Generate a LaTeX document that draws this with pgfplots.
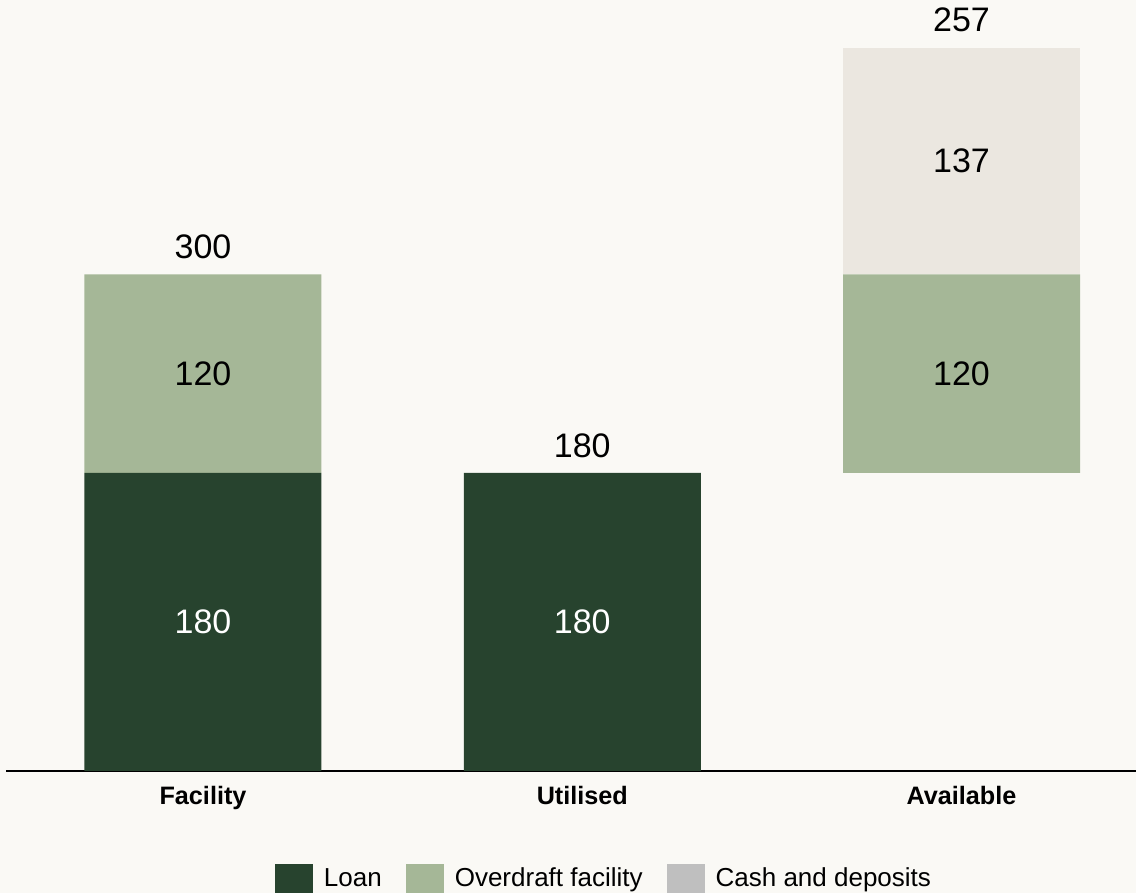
\documentclass[border=0pt]{standalone}
\usepackage{pgfplots}
\pgfplotsset{compat=1.18}
\usepackage{fontspec}
\setmainfont{Liberation Sans}
\usetikzlibrary{backgrounds}
\definecolor{loanc}{HTML}{27432E}
\definecolor{odc}{HTML}{A5B797}
\definecolor{cashc}{HTML}{EBE7E0}
\definecolor{cashleg}{HTML}{BFBFBF}
\definecolor{bgc}{HTML}{FAF9F5}
\pgfplotsset{common/.style={scale only axis, width=565pt, height=385.5pt,
  xmin=-0.5194, xmax=2.460, ymin=0, ymax=465.7, clip=false}}
\begin{document}
\begin{tikzpicture}[background rectangle/.style={fill=bgc}, show background rectangle, inner frame sep=0pt]
\begin{axis}[common, name=ax, ybar stacked, bar width=118.5pt,
  axis y line=none, axis x line*=bottom,
  x axis line style={line width=1pt, black},
  xtick={0,1,2}, xticklabels={Facility,Utilised,Available},
  major tick length=0pt,
  xticklabel style={font=\fontsize{12.6}{15}\selectfont\bfseries, inner sep=0pt, yshift=-7.5pt},
  legend image code/.code={\fill[#1] (0pt,-6.35pt) rectangle (19pt,8.15pt);},
  legend style={at={(0.5283,-0.1582)}, anchor=south, draw=none, fill=none,
    inner sep=0pt, outer sep=0pt, legend columns=3,
    font=\fontsize{13}{15}\selectfont,
    nodes={inner sep=0pt, text height=9.4pt, text depth=2.7pt},
    /tikz/every odd column/.append style={column sep=5.5pt},
    /tikz/every even column/.append style={column sep=12pt}},
]
\addplot[fill=none, draw=none, forget plot] coordinates {(0,0) (1,0) (2,180)};
\addplot[fill=loanc, draw=none] coordinates {(0,180) (1,180) (2,0)};
\addplot[fill=odc, draw=none] coordinates {(0,120) (1,0) (2,120)};
\addplot[fill=cashc, draw=none, forget plot] coordinates {(0,0) (1,0) (2,137)};
\addlegendimage{fill=cashleg, draw=none}
\legend{Loan, Overdraft facility, Cash and deposits}
\end{axis}
\begin{axis}[common, hide axis]
\addplot[draw=none, mark=none, nodes near coords, point meta=explicit symbolic,
  every node near coord/.append style={anchor=center, inner sep=0pt, text=white, font=\fontsize{17}{20}\selectfont}]
  coordinates {(0,90) [180] (1,90) [180]};
\addplot[draw=none, mark=none, nodes near coords, point meta=explicit symbolic,
  every node near coord/.append style={anchor=center, inner sep=0pt, text=black, font=\fontsize{17}{20}\selectfont}]
  coordinates {(0,240) [120] (2,240) [120] (2,368.5) [137]};
\addplot[draw=none, mark=none, nodes near coords, point meta=explicit symbolic,
  every node near coord/.append style={anchor=south, inner sep=0pt, yshift=7.5pt, text=black, font=\fontsize{17}{20}\selectfont}]
  coordinates {(0,300) [300] (1,180) [180] (2,437) [257]};
\end{axis}
\pgfresetboundingbox
\path[use as bounding box] ([xshift=-3pt,yshift=-61pt]ax.south west) rectangle (ax.north east);
\end{tikzpicture}
\end{document}
